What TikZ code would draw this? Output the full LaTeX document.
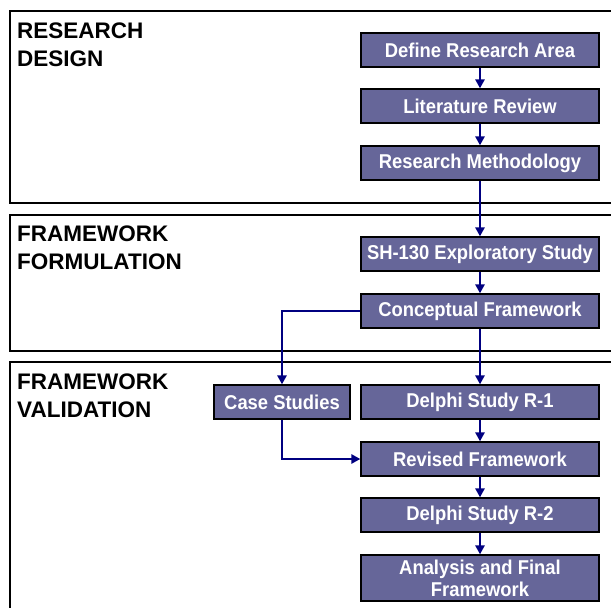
\documentclass[tikz,border=0pt]{standalone}
\usepackage{fontspec}
\setmainfont{Liberation Sans}
\newfontfamily\stepfont[FakeStretch=0.92]{Liberation Sans}
\usetikzlibrary{arrows.meta}
\definecolor{boxfill}{HTML}{666699}
\definecolor{linknavy}{HTML}{000080}
\tikzset{
  stage/.style={draw=black, line width=1.5pt, fill=boxfill, text=white,
    minimum width=238pt, minimum height=34pt, inner sep=0pt, align=center,
    font=\stepfont\fontsize{20}{22}\selectfont\bfseries},
  phase/.style={anchor=north west, inner sep=0pt, align=left,
    font=\fontsize{22.5}{28}\selectfont\bfseries},
  panel/.style={draw=black, line width=2pt},
  link/.style={draw=linknavy, line width=1.5pt, -{Triangle[width=9.5pt,length=9pt]}}
}
\begin{document}
\begin{tikzpicture}[x=1pt,y=-1pt]
				\useasboundingbox (0,0) rectangle (611,608);
				\clip (0,0) rectangle (611,608);
				% phases
				\draw [panel] (10,11) rectangle (650,203);
				\draw [panel] (10,215) rectangle (650,351);
				\draw [panel] (10,362) rectangle (650,650);
				\node [phase] (design) at (17,23) {RESEARCH\\DESIGN};
				\node [phase] (formulation) at (17,226) {FRAMEWORK\\FORMULATION};
				\node [phase] (validation) at (17,374) {FRAMEWORK\\VALIDATION};
				% steps
				\node [stage] (area) at (480,50) {Define Research Area};
				\node [stage] (lit) at (480,106) {Literature Review};
				\node [stage] (method) at (480,163) {Research Methodology};
				\node [stage] (sh) at (480,254) {SH-130 Exploratory Study};
				\node [stage] (concept) at (480,311) {Conceptual Framework};
				\node [stage, minimum width=136pt] (cases) at (282,402) {Case Studies};
				\node [stage] (delphi1) at (480,402) {Delphi Study R-1};
				\node [stage] (revised) at (480,459) {Revised Framework};
				\node [stage] (delphi2) at (480,515) {Delphi Study R-2};
				\node [stage, minimum height=46pt] (final) at (480,578) {Analysis and Final\\Framework};
				% links
				\draw [link] (area) -- (lit);
				\draw [link] (lit) -- (method);
				\draw [link] (method) -- (sh);
				\draw [link] (sh) -- (concept);
				\draw [link] (concept) -- (delphi1);
				\draw [link] (concept.west) -| (cases.north);
				\draw [link] (cases.south) |- (revised.west);
				\draw [link] (delphi1) -- (revised);
				\draw [link] (revised) -- (delphi2);
				\draw [link] (delphi2) -- (final);
\end{tikzpicture}
\end{document}
